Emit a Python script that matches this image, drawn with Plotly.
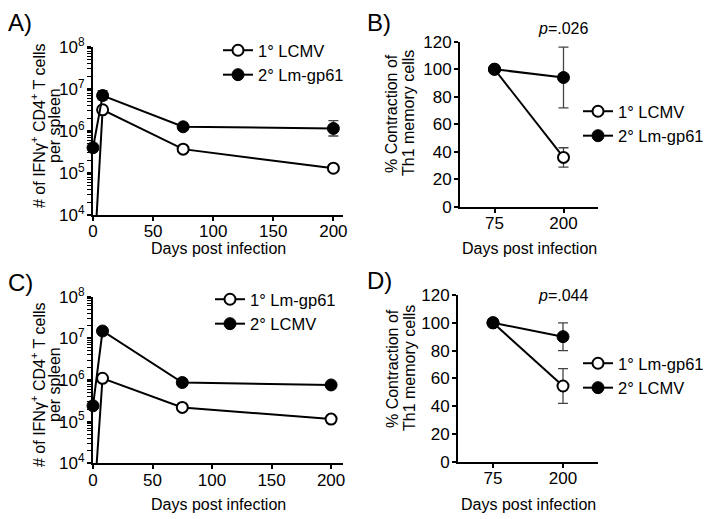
import plotly.graph_objects as go

# ---------------- data ----------------
days = [0, 8, 75, 200]

# Panel A
a_open_name = "1° LCMV"
a_open_y = [300, 3.2e6, 3.7e5, 1.3e5]
a_open_ep = [0, 3e5, 3e4, 2e4]
a_open_em = [0, 3e5, 3e4, 2e4]
a_fill_name = "2° Lm-gp61"
a_fill_y = [4.0e5, 7.0e6, 1.26e6, 1.15e6]
a_fill_ep = [5e4, 2.1e6, 1.5e5, 6.2e5]
a_fill_em = [5e4, 1.5e6, 1.5e5, 3.9e5]

# Panel C
c_open_name = "1° Lm-gp61"
c_open_y = [500, 1.1e6, 2.2e5, 1.15e5]
c_open_ep = [0, 1.5e5, 2.5e4, 2e4]
c_open_em = [0, 1.5e5, 2.5e4, 2e4]
c_fill_name = "2° LCMV"
c_fill_y = [2.4e5, 1.5e7, 8.7e5, 7.6e5]
c_fill_ep = [3e4, 2e6, 1e5, 1e5]
c_fill_em = [3e4, 2e6, 1e5, 1e5]

# Panels B / D
cat_days = ["75", "200"]
b_open_y = [100, 36]
b_open_ep = [0, 7]
b_open_em = [0, 7]
b_fill_y = [100, 94]
b_fill_ep = [0, 22]
b_fill_em = [0, 22]
b_p = "<i>p</i>=.026"

d_open_y = [100, 54.5]
d_open_ep = [0, 12.5]
d_open_em = [0, 12.5]
d_fill_y = [100, 90]
d_fill_ep = [0, 10]
d_fill_em = [0, 10]
d_p = "<i>p</i>=.044"

log_tickvals = [1e4, 1e5, 1e6, 1e7, 1e8]
log_ticktext = ["10<sup>4</sup>", "10<sup>5</sup>", "10<sup>6</sup>", "10<sup>7</sup>", "10<sup>8</sup>"]
log_minor = [m * 10 ** e for e in range(4, 8) for m in range(2, 10)]
lin_x_ticks = [0, 50, 100, 150, 200]
pct_ticks = [0, 20, 40, 60, 80, 100, 120]

ytitle_log_lines = ["# of IFNγ<sup>+</sup> CD4<sup>+</sup> T cells", "per spleen"]
ytitle_pct_lines = ["% Contraction of", "Th1 memory cells"]
xtitle = "Days post infection"

FONT = "Liberation Sans, Arial, sans-serif"
# page body has an 8px margin: size the figure to fit inside the window
OFF = 8
W, H = 718 - OFF, 519 - OFF

fig = go.Figure()


def px_x(p):
    return (p - OFF) / W


def px_y(p):
    return 1 - (p - OFF) / H


def add_pair(xa, ya, xv, open_name, oy, oep, oem, fill_name, fy, fep, fem, legend):
    err_style = dict(type="data", symmetric=False, color="#444", thickness=1.3, width=5)
    fig.add_trace(go.Scatter(
        x=xv, y=oy, name=open_name, mode="lines+markers", xaxis=xa, yaxis=ya,
        line=dict(color="black", width=2),
        marker=dict(symbol="circle", size=11, color="white", line=dict(color="black", width=2)),
        error_y=dict(array=oep, arrayminus=oem, **err_style),
        cliponaxis=True, legend=legend,
    ))
    fig.add_trace(go.Scatter(
        x=xv, y=fy, name=fill_name, mode="lines+markers", xaxis=xa, yaxis=ya,
        line=dict(color="black", width=2),
        marker=dict(symbol="circle", size=12, color="black", line=dict(color="black", width=1)),
        error_y=dict(array=fep, arrayminus=fem, **err_style),
        cliponaxis=False, legend=legend,
    ))


add_pair("x", "y", days, a_open_name, a_open_y, a_open_ep, a_open_em,
         a_fill_name, a_fill_y, a_fill_ep, a_fill_em, "legend")
add_pair("x2", "y2", cat_days, a_open_name, b_open_y, b_open_ep, b_open_em,
         a_fill_name, b_fill_y, b_fill_ep, b_fill_em, "legend2")
add_pair("x3", "y3", days, c_open_name, c_open_y, c_open_ep, c_open_em,
         c_fill_name, c_fill_y, c_fill_ep, c_fill_em, "legend3")
add_pair("x4", "y4", cat_days, c_open_name, d_open_y, d_open_ep, d_open_em,
         c_fill_name, d_fill_y, d_fill_ep, d_fill_em, "legend4")

axis_common = dict(showline=True, linecolor="black", linewidth=2, ticks="outside",
                   ticklen=4, tickwidth=2, tickcolor="black", showgrid=False,
                   zeroline=False, automargin=False,
                   tickfont=dict(size=17, color="black"))
xaxis_extra = dict(ticklabelstandoff=-4)
yaxis_extra = dict(ticklabelstandoff=-1)

log_axis = dict(type="log", range=[4, 8], tickvals=log_tickvals, ticktext=log_ticktext,
                minor=dict(tickmode="array", tickvals=log_minor, ticks="outside",
                           ticklen=4, tickwidth=1.2, tickcolor="black", showgrid=False))

fig.update_layout(
    width=W, height=H, margin=dict(l=0, r=0, t=0, b=0, autoexpand=False),
    paper_bgcolor="white", plot_bgcolor="white",
    font=dict(family=FONT, color="black", size=16),
    xaxis=dict(domain=[px_x(93), px_x(343)], range=[0, 208], anchor="y",
               tickvals=lin_x_ticks, **axis_common, **xaxis_extra),
    yaxis=dict(domain=[px_y(215), px_y(47)], anchor="x", **log_axis, **axis_common, **yaxis_extra),
    xaxis2=dict(domain=[px_x(460), px_x(598)], type="category", range=[-0.5, 1.5], anchor="y2",
                **axis_common, **xaxis_extra),
    yaxis2=dict(domain=[px_y(207), px_y(41.7)], range=[0, 120], anchor="x2",
                tickvals=pct_ticks, **axis_common, **yaxis_extra),
    xaxis3=dict(domain=[px_x(93), px_x(343)], range=[0, 210], anchor="y3",
                tickvals=lin_x_ticks, **axis_common, **xaxis_extra),
    yaxis3=dict(domain=[px_y(463.3), px_y(296.7)], anchor="x3", **log_axis, **axis_common,
                **yaxis_extra),
    xaxis4=dict(domain=[px_x(458), px_x(598)], type="category", range=[-0.5, 1.5], anchor="y4",
                **axis_common, **xaxis_extra),
    yaxis4=dict(domain=[px_y(461.7), px_y(295)], range=[0, 120], anchor="x4",
                tickvals=pct_ticks, **axis_common, **yaxis_extra),
    showlegend=True,
)

leg_common = dict(font=dict(size=16.5, color="black"), bgcolor="rgba(0,0,0,0)",
                  xanchor="left", yanchor="top", tracegroupgap=0, itemclick=False)
fig.update_layout(
    legend=dict(x=px_x(218), y=px_y(33), **leg_common),
    legend2=dict(x=px_x(578), y=px_y(94), **leg_common),
    legend3=dict(x=px_x(210), y=px_y(282), **leg_common),
    legend4=dict(x=px_x(578), y=px_y(346), **leg_common),
)


def ann(text, x, y, size=16, angle=0, xanchor="center"):
    fig.add_annotation(text=text, x=px_x(x), y=px_y(y), xref="paper", yref="paper",
                       xanchor=xanchor, yanchor="middle", showarrow=False, textangle=angle,
                       font=dict(size=size, color="black", family=FONT))


# panel letters
ann("A)", 6, 22, size=24, xanchor="left")
ann("B)", 365, 22, size=24, xanchor="left")
ann("C)", 6, 282, size=24, xanchor="left")
ann("D)", 365, 280, size=24, xanchor="left")

# axis titles
ann(xtitle, 218, 249)
ann(xtitle, 529, 249)
ann(xtitle, 218, 504)
ann(xtitle, 528, 504)
ann(ytitle_log_lines[0], 38, 126, angle=-90)
ann(ytitle_log_lines[1], 54, 126, angle=-90)
ann(ytitle_log_lines[0], 38, 385, angle=-90)
ann(ytitle_log_lines[1], 54, 385, angle=-90)
ann(ytitle_pct_lines[0], 392, 113, angle=-90)
ann(ytitle_pct_lines[1], 409, 113, angle=-90)
ann(ytitle_pct_lines[0], 392, 368, angle=-90)
ann(ytitle_pct_lines[1], 409, 368, angle=-90)

# p values
ann(b_p, 563, 28)
ann(d_p, 563, 295)

fig.write_html("out.html")
